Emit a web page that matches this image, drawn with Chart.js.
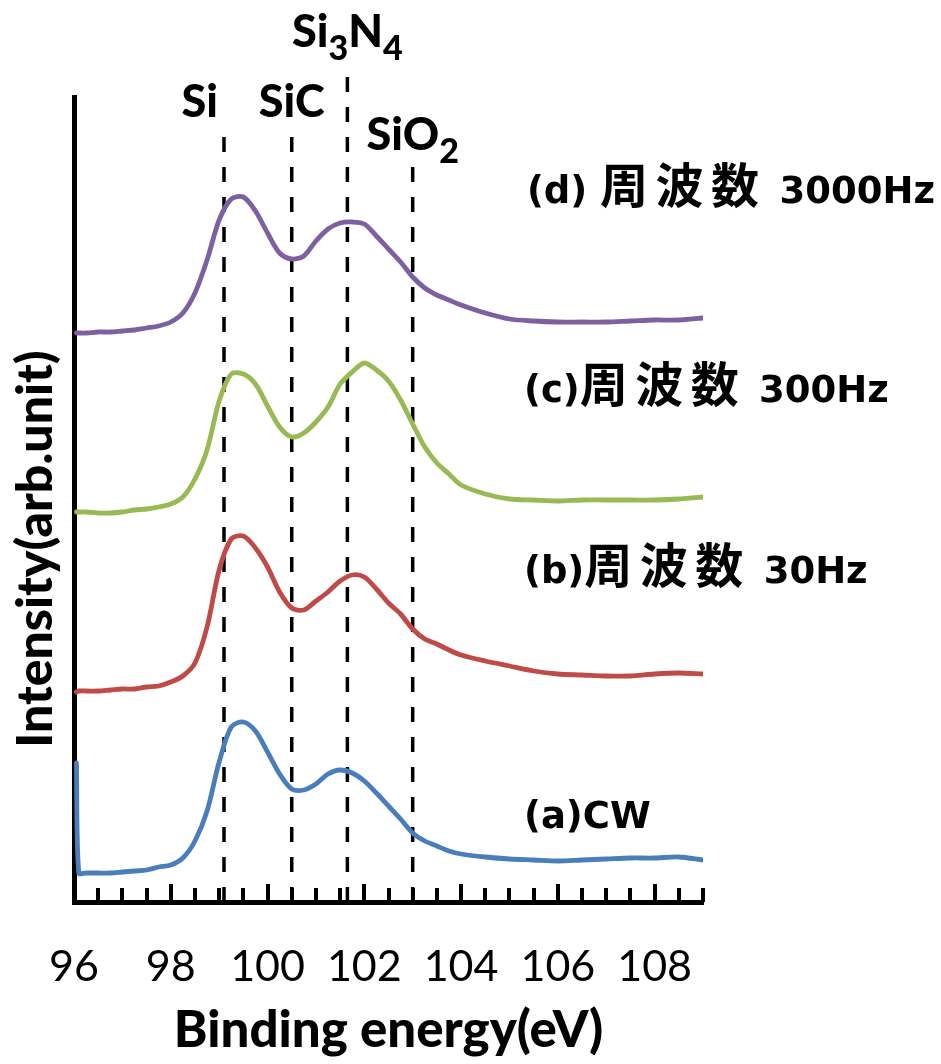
<!DOCTYPE html>
<html>
<head>
<meta charset="utf-8">
<script src="https://cdn.jsdelivr.net/npm/chart.js@4.4.1/dist/chart.umd.min.js"></script>
<style>
  html, body { margin: 0; padding: 0; background: #ffffff; }
  canvas { display: block; }
</style>
</head>
<body>
<canvas id="xps" width="941" height="1064"></canvas>
<script>
// Si 2p XPS spectra, binding energy (eV) vs. intensity (arb. unit, stacked)
const energies = [96.05, 96.1, 96.25, 96.5, 96.75, 97, 97.25, 97.5, 97.75, 98, 98.25, 98.5, 98.75,
  99, 99.25, 99.5, 99.75, 100, 100.25, 100.5, 100.75, 101, 101.25, 101.5, 101.75, 102, 102.25,
  102.5, 102.75, 103, 103.25, 103.5, 103.75, 104, 104.5, 105, 105.5, 106, 106.5, 107, 107.5,
  108, 108.5, 109];

const intensityCW = [139, 29, 29, 29, 29, 30, 31, 32, 35, 37, 44, 61, 91,
  140, 175, 180, 171, 150, 128, 113, 112, 118, 128, 132, 129, 121, 109,
  96, 83, 69, 61, 56, 51, 48, 45, 43, 42, 41, 42, 43, 44, 44, 45, 42];

const intensity30Hz = [210, 211, 211, 211, 212, 213, 213, 215, 216, 220, 226, 239, 275,
  332, 363, 366, 354, 335, 310, 294, 292, 301, 310, 321, 327, 325, 313,
  299, 288, 273, 263, 258, 252, 247, 241, 236, 231, 228, 227, 226, 226, 228, 229, 228];

const intensity300Hz = [390, 390, 390, 389, 389, 390, 392, 393, 395, 398, 405, 423, 452,
  501, 528, 528, 518, 496, 475, 465, 469, 480, 495, 518, 530, 539, 532,
  521, 502, 478, 455, 439, 428, 417, 408, 403, 402, 401, 402, 402, 402, 402, 403, 405];

const intensity3000Hz = [569, 569, 569, 570, 570, 571, 572, 574, 576, 580, 589, 609, 642,
  682, 703, 705, 691, 669, 649, 643, 646, 661, 673, 679, 680, 678, 666,
  653, 640, 625, 614, 607, 602, 597, 589, 583, 581, 580, 580, 580, 581, 582, 582, 584];

const xTickLabels = [96, 98, 100, 102, 104, 106, 108];

// Reference binding energies of the chemical states and the height of their marker lines
const peakNames = [
  [['Si', 0]],
  [['SiC', 0]],
  [['Si', 0], ['3', 1], ['N', 0], ['4', 1]],
  [['SiO', 0], ['2', 1]]
];
const peakEnergies = [99.1, 100.5, 101.65, 103.0];
const peakLineTops = [772, 770, 827, 740];

// Spectrum captions: [latin prefix, kanji, latin suffix]
const seriesNames = [
  ['(a)CW', '', ''],
  ['(b)', '周波数', ' 30Hz'],
  ['(c)', '周波数', ' 300Hz'],
  ['(d) ', '周波数', ' 3000Hz']
];

// ---- styling / placement ----
const seriesColors = ['#4A7EBB', '#BE4B48', '#98B954', '#7D60A0'];
const seriesValues = [intensityCW, intensity30Hz, intensity300Hz, intensity3000Hz];
const captionAnchors = [[105.3, 74], [105.3, 319], [105.3, 500], [105.36, 699]];
const peakLabelAnchors = [[98.6, 785], [100.5, 785], [101.65, 855], [103.0, 752]];

const datasets = [];
peakEnergies.forEach((e, i) => {
  datasets.push({
    data: [{ x: e, y: 0 }, { x: e, y: peakLineTops[i] }],
    borderColor: '#000000',
    borderWidth: 3.5,
    borderDash: [15, 15],
    pointRadius: 0,
    tension: 0,
    clip: false,
    order: 2
  });
});
seriesValues.forEach((vals, i) => {
  datasets.push({
    data: energies.map((e, k) => ({ x: e, y: vals[k] })),
    borderColor: seriesColors[i],
    borderWidth: 4.8,
    pointRadius: 0,
    tension: 0.3,
    borderJoinStyle: 'round',
    borderCapStyle: 'round',
    order: 1
  });
});

// inward tick marks on the energy axis (longer at labelled values)
const innerTicks = {
  id: 'innerTicks',
  afterDraw(chart) {
    const xs = chart.scales.x;
    const ctx = chart.ctx;
    const base = chart.chartArea.bottom;
    ctx.save();
    ctx.strokeStyle = '#000';
    ctx.lineWidth = 4;
    xs.ticks.forEach(t => {
      const px = Math.round(xs.getPixelForValue(t.value));
      const len = xTickLabels.includes(t.value) ? 18 : 14;
      ctx.beginPath();
      ctx.moveTo(px, base);
      ctx.lineTo(px, base - len);
      ctx.stroke();
    });
    ctx.restore();
  }
};

function drawParts(ctx, parts, cx, baseY, mainFont, subFont, subShift) {
  let total = 0;
  parts.forEach(([t, sub]) => { ctx.font = sub ? subFont : mainFont; total += ctx.measureText(t).width; });
  let x = cx - total / 2;
  parts.forEach(([t, sub]) => {
    ctx.font = sub ? subFont : mainFont;
    ctx.fillText(t, x, baseY + (sub ? subShift : 0));
    x += ctx.measureText(t).width;
  });
}

const textLayer = {
  id: 'textLayer',
  afterDraw(chart) {
    const ctx = chart.ctx;
    const xs = chart.scales.x, ys = chart.scales.y;
    ctx.save();
    ctx.fillStyle = '#000';
    ctx.textBaseline = 'alphabetic';
    ctx.textAlign = 'left';

    // chemical state labels
    peakNames.forEach((parts, i) => {
      const [e, v] = peakLabelAnchors[i];
      drawParts(ctx, parts, xs.getPixelForValue(e), ys.getPixelForValue(v),
        "900 45px Lato", "900 34px Lato", 13);
    });

    // spectrum captions
    seriesNames.forEach(([pre, kanji, post], i) => {
      const [e, v] = captionAnchors[i];
      let x = xs.getPixelForValue(e);
      const y = ys.getPixelForValue(v);
      ctx.font = "bold 37px 'DejaVu Sans'";
      ctx.fillText(pre, x, y);
      x += ctx.measureText(pre).width;
      ctx.font = "bold 48px 'Noto Sans CJK JP'";
      for (const ch of kanji) {
        ctx.fillText(ch, x, y);
        x += ctx.measureText(ch).width + 7.5;
      }
      ctx.font = "bold 37px 'DejaVu Sans'";
      ctx.fillText(post, x, y);
    });

    // vertical axis title
    ctx.translate(52, 549);
    ctx.rotate(-Math.PI / 2);
    ctx.textAlign = 'center';
    ctx.font = "900 50px Lato";
    ctx.fillText('Intensity(arb.unit)', 0, 0);
    ctx.restore();
  }
};

new Chart(document.getElementById('xps'), {
  type: 'line',
  data: { datasets },
  options: {
    responsive: false,
    animation: false,
    layout: { padding: { top: 97, right: 238, left: 0, bottom: 0 } },
    plugins: { legend: { display: false }, tooltip: { enabled: false } },
    scales: {
      x: {
        type: 'linear',
        min: 96,
        max: 109,
        afterFit(scale) { scale.height = 162; },
        grid: { display: false, drawTicks: false },
        border: { display: true, color: '#000', width: 5 },
        ticks: {
          stepSize: 0.5,
          autoSkip: false,
          maxRotation: 0,
          padding: 39,
          color: '#000',
          font: { family: 'Lato', size: 43 },
          callback: v => (xTickLabels.includes(v) ? String(v) : '')
        },
        title: {
          display: true,
          text: 'Binding energy(eV)',
          color: '#000',
          font: { family: 'Lato', size: 51, weight: 900 },
          padding: { top: 0, bottom: 3 }
        }
      },
      y: {
        min: 0,
        max: 805,
        afterFit(scale) { scale.width = 74; },
        grid: { display: false, drawTicks: false },
        border: { display: true, color: '#000', width: 5 },
        ticks: { display: false }
      }
    }
  },
  plugins: [innerTicks, textLayer]
});
</script>
</body>
</html>
